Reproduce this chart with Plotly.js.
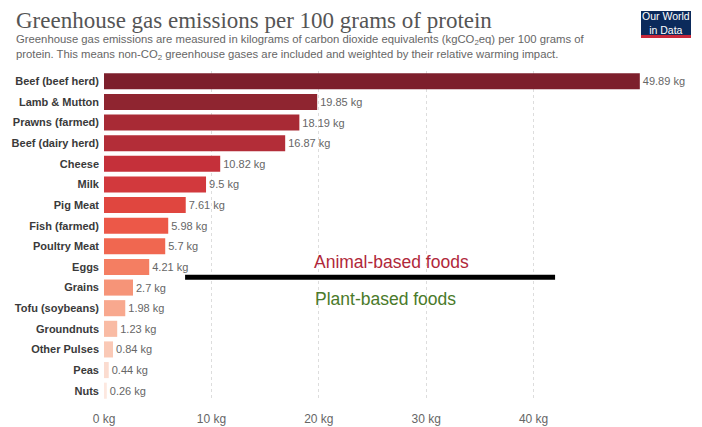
<!DOCTYPE html>
<html>
<head>
<meta charset="utf-8">
<script src="https://cdn.plot.ly/plotly-3.0.1.min.js"></script>
<style>
  html, body { margin: 0; padding: 0; background: #fff; }
  #chart { width: 702px; height: 427px; }
</style>
</head>
<body>
<div id="chart"></div>
<script>
// Food products, ordered from highest to lowest emissions
const foods = [
  "Beef (beef herd)", "Lamb & Mutton", "Prawns (farmed)", "Beef (dairy herd)",
  "Cheese", "Milk", "Pig Meat", "Fish (farmed)", "Poultry Meat", "Eggs",
  "Grains", "Tofu (soybeans)", "Groundnuts", "Other Pulses", "Peas", "Nuts"
];

// kgCO2eq per 100 grams of protein
const emissions = [
  49.89, 19.85, 18.19, 16.87, 10.82, 9.5, 7.61, 5.98, 5.7, 4.21,
  2.7, 1.98, 1.23, 0.84, 0.44, 0.26
];

// Value labels as shown next to each bar
const valueLabels = [
  "49.89 kg", "19.85 kg", "18.19 kg", "16.87 kg", "10.82 kg", "9.5 kg",
  "7.61 kg", "5.98 kg", "5.7 kg", "4.21 kg", "2.7 kg", "1.98 kg",
  "1.23 kg", "0.84 kg", "0.44 kg", "0.26 kg"
];

// Dark red to pale pink ramp
const barColors = [
  "#7d1f2c", "#8f2530", "#a82a35", "#b32d38", "#c5303a", "#d2393d",
  "#e0463f", "#ec5848", "#f06750", "#f47e62", "#f69478", "#f8a88e",
  "#f9bba4", "#fac9b6", "#fbdcd0", "#fde8e0"
];

const tickVals = [0, 10, 20, 30, 40];
const tickText = ["0 kg", "10 kg", "20 kg", "30 kg", "40 kg"];

const trace = {
  type: "bar",
  orientation: "h",
  x: emissions,
  y: foods,
  text: valueLabels,
  textposition: "outside",
  cliponaxis: false,
  textfont: { family: "Liberation Sans, Arial, sans-serif", size: 11, color: "#666" },
  marker: { color: barColors },
  hoverinfo: "none"
};

const layout = {
  width: 702,
  height: 427,
  margin: { l: 104, r: 61, t: 71, b: 26 },
  paper_bgcolor: "#fff",
  plot_bgcolor: "#fff",
  bargap: 0.22,
  showlegend: false,
  font: { family: "Liberation Sans, Arial, sans-serif", color: "#444" },
  xaxis: {
    range: [0, 50],
    tickvals: tickVals,
    ticktext: tickText,
    showgrid: true,
    gridcolor: "#ddd",
    griddash: "dot",
    gridwidth: 1,
    zeroline: false,
    showline: false,
    ticks: "",
    ticklabelstandoff: 9,
    tickfont: { size: 12, color: "#666" },
    fixedrange: true
  },
  yaxis: {
    autorange: "reversed",
    type: "category",
    showgrid: false,
    zeroline: false,
    ticks: "",
    ticklabelstandoff: 4,
    tickfont: { size: 11, color: "#3a3a3a", family: "Liberation Sans, Arial, sans-serif", weight: "bold" },
    fixedrange: true
  },
  shapes: [
    // divider between animal- and plant-based foods
    {
      type: "line", xref: "x", yref: "y",
      x0: 7.55, x1: 42.0, y0: 9.5, y1: 9.5,
      line: { color: "#000", width: 5 }
    },
    // logo box
    {
      type: "rect", xref: "paper", yref: "paper",
      x0: (641 - 104) / 537, x1: (691 - 104) / 537,
      y0: (427 - 26 - 38) / 330, y1: (427 - 26 - 11) / 330,
      fillcolor: "#0b2a5b", line: { width: 0 }, layer: "above"
    },
    {
      type: "rect", xref: "paper", yref: "paper",
      x0: (641 - 104) / 537, x1: (691 - 104) / 537,
      y0: (427 - 26 - 38) / 330, y1: (427 - 26 - 35) / 330,
      fillcolor: "#c8283a", line: { width: 0 }, layer: "above"
    }
  ],
  annotations: [
    {
      text: "Greenhouse gas emissions per 100 grams of protein",
      xref: "paper", yref: "paper",
      x: -90 / 537, y: (427 - 26 - 6) / 330,
      xanchor: "left", yanchor: "top", showarrow: false,
      font: { family: "Liberation Serif, Times New Roman, serif", size: 23, color: "#555" }
    },
    {
      text: "Greenhouse gas emissions are measured in kilograms of carbon dioxide equivalents (kgCO<sub>2</sub>eq) per 100 grams of<br>protein. This means non-CO<sub>2</sub> greenhouse gases are included and weighted by their relative warming impact.",
      xref: "paper", yref: "paper",
      x: -90 / 537, y: (427 - 26 - 31) / 330,
      xanchor: "left", yanchor: "top", align: "left", showarrow: false,
      font: { family: "Liberation Sans, Arial, sans-serif", size: 11.3, color: "#666" }
    },
    {
      text: "Our World<br>in Data",
      xref: "paper", yref: "paper",
      x: (666 - 104) / 537, y: (427 - 26 - 23.5) / 330,
      xanchor: "center", yanchor: "middle", showarrow: false,
      font: { family: "Liberation Sans Narrow, Liberation Sans, Arial, sans-serif", size: 10.5, color: "#fff" }
    },
    {
      text: "Animal-based foods",
      xref: "x", yref: "y",
      x: 26.8, y: 9.35,
      xanchor: "center", yanchor: "bottom", showarrow: false,
      font: { family: "Liberation Sans, Arial, sans-serif", size: 17.5, color: "#b0283a" }
    },
    {
      text: "Plant-based foods",
      xref: "x", yref: "y",
      x: 26.2, y: 9.95,
      xanchor: "center", yanchor: "top", showarrow: false,
      font: { family: "Liberation Sans, Arial, sans-serif", size: 17.5, color: "#4a7a2a" }
    }
  ]
};

Plotly.newPlot("chart", [trace], layout, { displayModeBar: false, staticPlot: true });
</script>
</body>
</html>
